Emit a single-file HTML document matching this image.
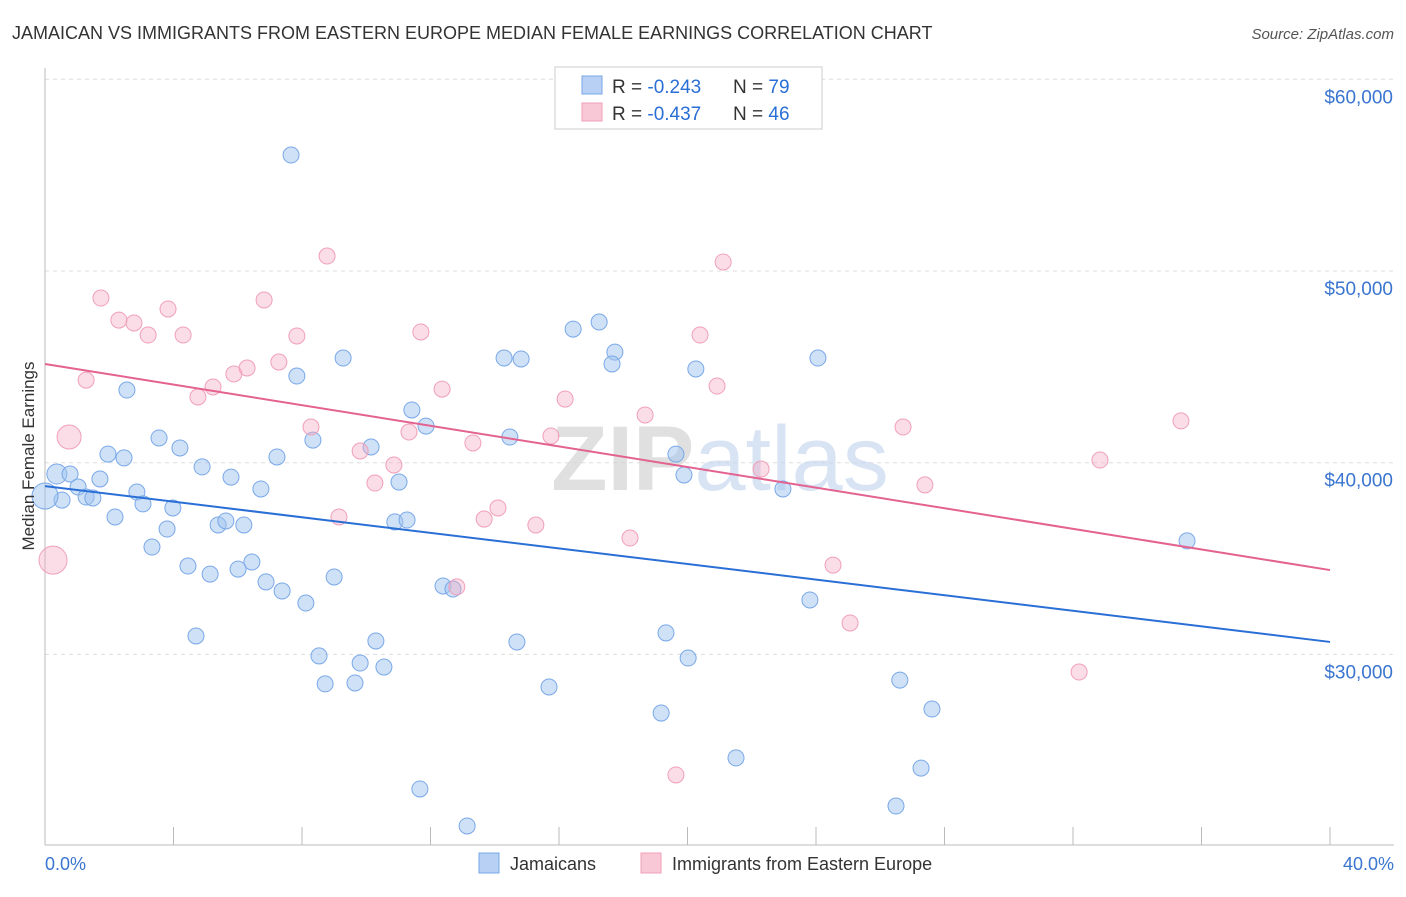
<!DOCTYPE html>
<html><head><meta charset="utf-8"><style>
body{margin:0;background:#fff;font-family:"Liberation Sans",sans-serif}
svg text{font-family:"Liberation Sans",sans-serif}
</style></head><body>
<svg id="chart" width="1406" height="892" viewBox="0 0 1406 892" xmlns="http://www.w3.org/2000/svg">
<text x="12" y="39" font-size="18" fill="#333">JAMAICAN VS IMMIGRANTS FROM EASTERN EUROPE MEDIAN FEMALE EARNINGS CORRELATION CHART</text>
<text x="1394" y="39" font-size="15" fill="#555" text-anchor="end" font-style="italic">Source: ZipAtlas.com</text>
<g id="grid"></g>
<text x="720" y="490" font-size="92" text-anchor="middle" fill="#ddd" opacity="0.7" font-family="Liberation Serif"><tspan font-weight="bold" fill="#d4d4d4">ZIP</tspan><tspan fill="#c8d8f0" font-family="Liberation Sans">atlas</tspan></text>
<g id="marks"></g>
<text transform="translate(34,456) rotate(-90)" font-size="17" fill="#333" text-anchor="middle">Median Female Earnings</text>
<text x="45" y="870" font-size="18" fill="#3a75d0">0.0%</text>
<text x="1394" y="870" font-size="18" fill="#3a75d0" text-anchor="end">40.0%</text>
<g>
<rect x="555" y="67" width="267" height="62" fill="#fff" stroke="#ccc"/>
<rect x="582" y="76" width="20" height="18" fill="#b8d0f4" stroke="#7aa8e8"/>
<text x="612" y="93" font-size="19" fill="#333">R = <tspan fill="#2a6fd6">-0.243</tspan></text>
<text x="733" y="93" font-size="19" fill="#333">N = <tspan fill="#2a6fd6">79</tspan></text>
<rect x="582" y="103" width="20" height="18" fill="#f9c8d6" stroke="#f0a0b8"/>
<text x="612" y="120" font-size="19" fill="#333">R = <tspan fill="#2a6fd6">-0.437</tspan></text>
<text x="733" y="120" font-size="19" fill="#333">N = <tspan fill="#2a6fd6">46</tspan></text>
</g>
<g>
<rect x="479" y="853" width="20" height="20" fill="#b8d0f4" stroke="#7aa8e8"/>
<text x="510" y="870" font-size="18" fill="#333">Jamaicans</text>
<rect x="641" y="853" width="20" height="20" fill="#f9c8d6" stroke="#f0a0b8"/>
<text x="672" y="870" font-size="18" fill="#333">Immigrants from Eastern Europe</text>
</g>
</svg>
<script>
const yTicks=[30000,40000,50000,60000];
const yTickLabels=["$30,000","$40,000","$50,000","$60,000"];
const xTicks=[0,4,8,12,16,20,24,28,32,36,40];
const blueX=[7.66,16.44,17.25,9.28,14.29,14.82,17.74,17.65,20.26,24.06,7.84,2.55,11.42,11.86,8.34,14.47,3.55,4.20,10.15,1.96,2.46,7.22,19.64,4.89,5.79,19.89,0.37,0.78,1.71,11.02,1.03,6.72,2.86,22.97,1.28,1.49,0.53,0,3.05,3.98,2.18,5.39,5.63,6.19,10.89,11.27,3.80,3.33,6.44,4.45,5.14,6.01,9.00,6.88,7.38,12.39,12.70,8.12,23.81,4.70,10.30,14.69,19.33,8.53,9.81,10.55,20.02,8.72,9.65,15.69,26.61,19.18,27.61,21.51,27.27,11.67,26.49,13.14,35.55];
const blueY=[56.05,46.97,47.34,45.46,45.46,45.41,45.77,45.15,44.89,45.46,44.52,43.79,42.75,41.91,41.18,41.34,41.29,40.77,40.82,40.45,40.25,40.30,40.45,39.78,39.25,39.36,39.41,39.41,39.15,38.99,38.73,38.63,38.47,38.63,38.21,38.16,38.05,38.26,37.85,37.64,37.17,36.75,36.96,36.75,36.91,37.01,36.54,35.60,34.82,34.61,34.19,34.45,34.04,33.78,33.31,33.57,33.41,32.68,32.84,30.96,30.70,30.65,31.12,29.92,29.55,29.34,29.81,28.46,28.51,28.30,28.66,26.94,27.15,24.60,24.07,22.98,22.09,21.05,35.92];
const blueBig={37:13,26:10};
const pinkX=[8.78,21.11,1.74,6.82,3.83,2.30,2.77,3.21,4.30,7.84,11.70,20.39,1.28,7.28,6.29,5.88,5.23,4.76,12.36,16.19,20.92,18.68,26.71,35.36,0.75,11.33,8.28,13.32,15.75,9.81,10.86,10.27,22.29,32.84,27.39,14.10,13.67,9.15,15.28,18.21,0.25,12.82,24.53,25.06,32.19,19.64];
const pinkY=[50.78,50.47,48.59,48.49,48.02,47.44,47.29,46.66,46.66,46.61,46.82,46.66,44.31,45.25,44.94,44.63,43.95,43.43,43.84,43.32,44.00,42.49,41.86,42.18,41.34,41.60,41.86,41.03,41.39,40.61,39.88,38.94,39.67,40.14,38.84,37.64,37.06,37.17,36.75,36.07,34.92,33.52,34.66,31.64,29.08,23.71];
const pinkBig={24:12,40:14};
const blueTrend=[38.78,30.65];
const pinkTrend=[45.15,34.40];
const NS="http://www.w3.org/2000/svg";
function sx(p){return 45+p*32.125;}
function sy(v){return 271-(v-50000)*0.01917;}
function sk(k){return sy(k*1000);}
function mk(t,a,p){const e=document.createElementNS(NS,t);for(const k in a)e.setAttribute(k,a[k]);p.appendChild(e);return e;}
const grid=document.getElementById('grid'),marks=document.getElementById('marks');
yTicks.forEach((v,i)=>{
  const l=mk('line',{x1:45,x2:1394,y1:sy(v),y2:sy(v),stroke:'#ddd','stroke-dasharray':'4,4'},grid);
  
  
  const t=mk('text',{x:1393,y:sy(v)+24,'font-size':19,fill:'#3a75d0','text-anchor':'end'},grid);
  t.textContent=yTickLabels[i];
  
  
});
const ax=mk('line',{x1:45,x2:45,y1:68,y2:845,stroke:'#bbb'},grid);


const bx=mk('line',{x1:45,x2:1394,y1:845,y2:845,stroke:'#bbb'},grid);


xTicks.forEach(p=>{
  const t=mk('line',{x1:sx(p),x2:sx(p),y1:827,y2:845,stroke:'#bbb'},grid);
  
  
});
blueX.forEach((x,i)=>{
  const c=mk('circle',{cx:sx(x),cy:sk(blueY[i]),r:blueBig[i]||8,fill:'rgba(160,195,240,0.5)',stroke:'#7aa8e8','stroke-width':1},marks);
  
  
});
pinkX.forEach((x,i)=>{
  const c=mk('circle',{cx:sx(x),cy:sk(pinkY[i]),r:pinkBig[i]||8,fill:'rgba(245,170,195,0.4)',stroke:'#f0a0b8','stroke-width':1},marks);
  
  
});
const bl=mk('line',{x1:sx(0),x2:sx(40),y1:sk(blueTrend[0]),y2:sk(blueTrend[1]),stroke:'#2a6fd6','stroke-width':2},marks);


const pl=mk('line',{x1:sx(0),x2:sx(40),y1:sk(pinkTrend[0]),y2:sk(pinkTrend[1]),stroke:'#e4628f','stroke-width':2},marks);


</script>
</body></html>
